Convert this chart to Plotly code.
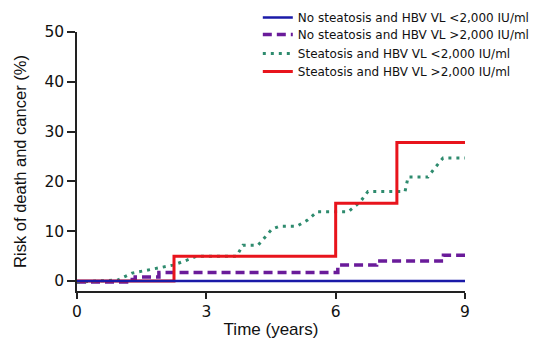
import plotly.graph_objects as go

# Data
blue_x = [0, 9]
blue_y = [0, 0]

purple_x = [0, 1.15, 1.35, 1.9, 6.05, 6.95, 8.5, 9]
purple_y = [-0.2, 0.3, 0.8, 1.7, 3.2, 4.0, 5.2, 5.2]

green_x = [0, 0.45, 0.95, 1.28, 1.62, 1.93, 2.23, 2.55, 2.78, 3.70, 3.85, 4.20, 4.52,
           4.70, 5.10, 5.34, 5.57, 6.29, 6.57, 6.75, 7.61, 7.68, 8.14, 8.30, 8.49, 9]
green_y = [-0.2, 0, 0.2, 1.6, 2.2, 2.8, 3.2, 4.2, 5.0, 5.0, 7.2, 7.2, 10.4,
           11.0, 11.0, 12.2, 13.9, 13.9, 15.9, 18.0, 18.0, 20.9, 20.9, 22.7, 24.7, 24.7]

red_x = [0, 2.25, 6.0, 7.42, 9]
red_y = [0, 5.0, 15.6, 27.8, 27.8]

names = ["No steatosis and HBV VL <2,000 IU/ml",
         "No steatosis and HBV VL >2,000 IU/ml",
         "Steatosis and HBV VL <2,000 IU/ml",
         "Steatosis and HBV VL >2,000 IU/ml"]

x_ticks = [0, 3, 6, 9]
y_ticks = [0, 10, 20, 30, 40, 50]

fig = go.Figure()
fig.add_trace(go.Scatter(x=purple_x, y=purple_y, mode="lines", name=names[1], legend="legend2",
                         line=dict(color="#6a1b9a", width=3.5, dash="9px,5px", shape="hv")))
fig.add_trace(go.Scatter(x=green_x, y=green_y, mode="lines", name=names[2], legend="legend3",
                         line=dict(color="#2e8b6e", width=3, dash="3px,5px")))
fig.add_trace(go.Scatter(x=red_x, y=red_y, mode="lines", name=names[3], legend="legend4",
                         line=dict(color="#e8141c", width=3, shape="hv")))
fig.add_trace(go.Scatter(x=blue_x, y=blue_y, mode="lines", name=names[0], legend="legend",
                         line=dict(color="#1a1aa8", width=2.5, shape="hv")))

TICK_FONT = "DejaVu Sans, Liberation Sans, sans-serif"
axis_common = dict(showline=True, linecolor="#222", linewidth=1.5, ticks="outside",
                   tickcolor="#222", tickwidth=1.5, showgrid=False, zeroline=False,
                   tickfont=dict(size=15.5, color="#111", family=TICK_FONT))

def leg(y):
    return dict(x=0.466, y=y, xanchor="left", yanchor="top",
                font=dict(size=12, color="#111", family=TICK_FONT),
                bgcolor="rgba(0,0,0,0)")

fig.update_layout(
    width=536, height=340,
    margin=dict(l=77, r=71, t=32, b=49, autoexpand=False),
    paper_bgcolor="white", plot_bgcolor="white",
    font=dict(family="Liberation Sans, Arial, sans-serif", color="#111"),
    xaxis=dict(range=[0, 9], tickvals=x_ticks, ticklen=6,
               title=dict(text="Time (years)", font=dict(size=17, family="Liberation Sans, Arial, sans-serif"),
                          standoff=3),
               **axis_common),
    yaxis=dict(range=[-2, 50], tickvals=y_ticks, ticklen=8,
               title=dict(text="Risk of death and cancer (%)", font=dict(size=16.5), standoff=14),
               **axis_common),
    legend=leg(1.112),
    legend2=leg(1.046),
    legend3=leg(0.973),
    legend4=leg(0.903),
    showlegend=True,
)

fig.write_html("out.html", post_script="document.body.style.margin='0';",
               config={"displayModeBar": False})
